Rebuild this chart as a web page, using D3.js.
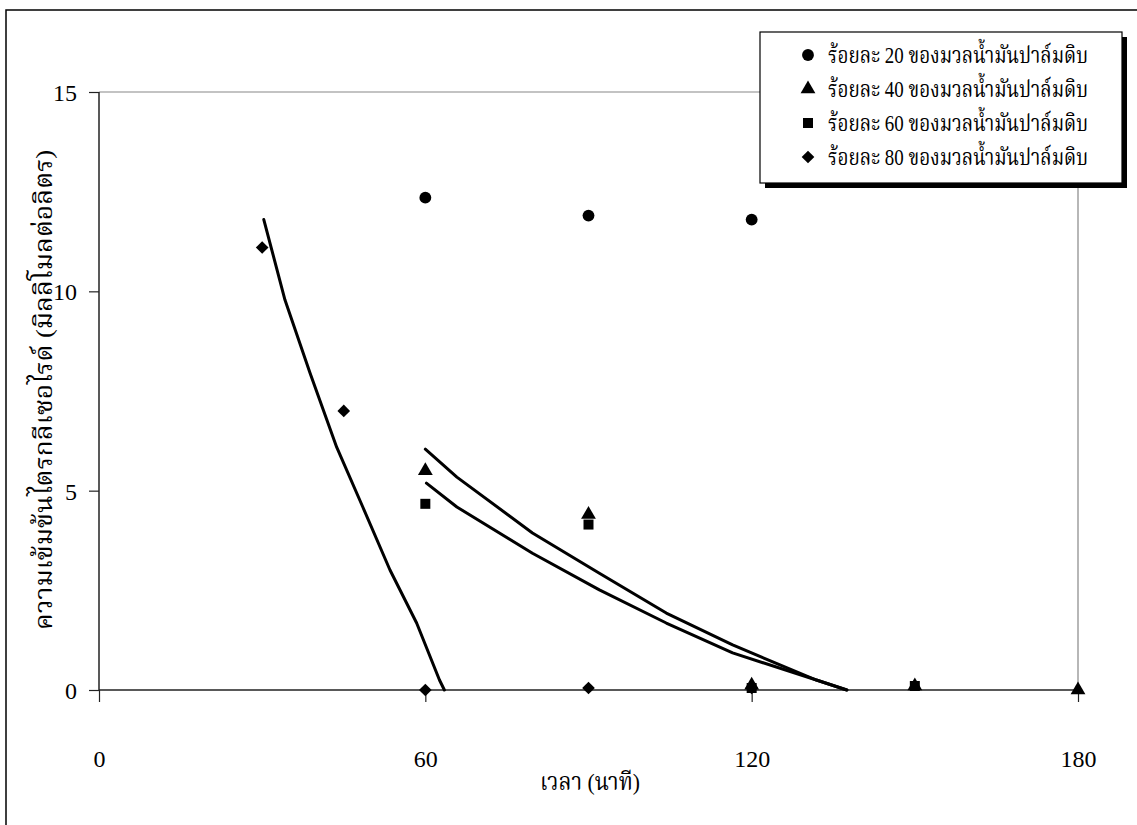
<!DOCTYPE html>
<html>
<head>
<meta charset="utf-8">
<script src="https://cdn.jsdelivr.net/npm/d3@7"></script>
<style>
    body { margin: 0; background: #fff; }
    text { font-family: "Liberation Serif", "Noto Serif Thai", "Noto Sans Thai", serif; fill: #000; }
</style>
</head>
<body>
<script>
// values
var seriesNames = [
    "ร้อยละ 20 ของมวลน้ำมันปาล์มดิบ",
    "ร้อยละ 40 ของมวลน้ำมันปาล์มดิบ",
    "ร้อยละ 60 ของมวลน้ำมันปาล์มดิบ",
    "ร้อยละ 80 ของมวลน้ำมันปาล์มดิบ"
];
var pts20 = [[60, 12.35], [90, 11.9], [120, 11.8]];
var pts40 = [[60, 5.5], [90, 4.4], [120, 0.12], [150, 0.1], [180, 0]];
var pts60 = [[60, 4.67], [90, 4.15], [120, 0.05], [150, 0.1]];
var pts80 = [[30, 11.1], [45, 7.0], [60, 0], [90, 0.05], [120, 0.05]];

// fitted curves
var fit40 = [[60, 6.04], [65.8, 5.34], [79.7, 3.94], [92, 2.93], [104.3, 1.93], [116.5, 1.13], [131.9, 0.25], [137.5, 0]];
var fit60 = [[60.2, 5.19], [65.8, 4.59], [79.7, 3.43], [92, 2.51], [104.3, 1.68], [116.5, 0.93], [131.9, 0.25], [137.5, 0]];
var fit80 = [[30.3, 11.8], [34.2, 9.78], [38.8, 7.95], [43.7, 6.09], [48.5, 4.59], [53.5, 3.01], [58.4, 1.68], [62.6, 0.25], [63.5, 0]];

var xTicks = [0, 60, 120, 180];
var yTicks = [0, 5, 10, 15];

var width = 1137, height = 825;
var plotL = 99, plotR = 1078, plotT = 92, plotB = 690;

var svg = d3.select("body").append("svg")
    .attr("width", width)
    .attr("height", height);

// outer chart frame (cropped at right and bottom)
svg.append("rect")
    .attr("x", 6).attr("y", 10)
    .attr("width", width + 10).attr("height", height + 10)
    .attr("fill", "#fff")
    .attr("stroke", "#000")
    .attr("stroke-width", 1.5);

var x = d3.scaleLinear().domain([0, 180]).range([plotL, plotR]);
var y = d3.scaleLinear().domain([0, 15]).range([plotB, plotT]);

// plot area border (top & right)
svg.append("path")
    .attr("d", "M" + plotL + "," + plotT + "H" + plotR + "V" + plotB)
    .attr("fill", "none")
    .attr("stroke", "#888")
    .attr("stroke-width", 1.2);

var yAxis = svg.append("g")
    .attr("transform", "translate(" + plotL + ",0)")
    .call(d3.axisLeft(y).tickValues(yTicks).tickSize(10).tickPadding(12));

var xAxis = svg.append("g")
    .attr("transform", "translate(0," + plotB + ")")
    .call(d3.axisBottom(x).tickValues(xTicks).tickSize(12).tickPadding(48));

[xAxis, yAxis].forEach(function (g) {
    g.select(".domain").attr("stroke", "#222").attr("stroke-width", 1.5);
    g.selectAll(".tick line").attr("stroke", "#222").attr("stroke-width", 1.2);
    g.selectAll(".tick text")
        .attr("font-size", 24)
        .style("font-family", "'Liberation Serif', serif");
});
yAxis.selectAll(".tick text").attr("dy", "0.35em");
xAxis.select(".domain").attr("d", "M" + plotL + ",0H" + plotR);
yAxis.select(".domain").attr("d", "M0," + plotB + "V" + plotT);

// fitted lines
var line = d3.line()
    .x(function (d) { return x(d[0]); })
    .y(function (d) { return y(d[1]); });

[fit80, fit40, fit60].forEach(function (f) {
    svg.append("path")
        .datum(f)
        .attr("d", line)
        .attr("fill", "none")
        .attr("stroke", "#000")
        .attr("stroke-width", 3)
        .attr("stroke-linejoin", "round")
        .attr("stroke-linecap", "round");
});

// markers (diamond = square turned 45 degrees)
var symbols = [
    d3.symbol().type(d3.symbolCircle).size(110),
    d3.symbol().type(d3.symbolTriangle).size(95),
    d3.symbol().type(d3.symbolSquare).size(100),
    d3.symbol().type(d3.symbolSquare).size(80)
];
var turns = [0, 0, 0, 45];
var allPts = [pts20, pts40, pts60, pts80];

allPts.forEach(function (pts, i) {
    svg.selectAll(null)
        .data(pts)
        .enter()
        .append("path")
        .attr("transform", function (d) {
            return "translate(" + x(d[0]) + "," + y(d[1]) + ") rotate(" + turns[i] + ")";
        })
        .attr("d", symbols[i])
        .attr("fill", "#000");
});

// axis titles
svg.append("text")
    .attr("x", 590)
    .attr("y", 790)
    .attr("text-anchor", "middle")
    .attr("font-size", 24)
    .attr("textLength", 100)
    .attr("lengthAdjust", "spacingAndGlyphs")
    .text("เวลา (นาที)");

svg.append("text")
    .attr("transform", "translate(52,390) rotate(-90)")
    .attr("text-anchor", "middle")
    .attr("font-size", 24)
    .attr("textLength", 480)
    .attr("lengthAdjust", "spacingAndGlyphs")
    .text("ความเข้มข้นไตรกลีเซอไรด์ (มิลลิโมลต่อลิตร)");

// legend
var lg = svg.append("g");
lg.append("rect")
    .attr("x", 765).attr("y", 37)
    .attr("width", 362).attr("height", 151)
    .attr("fill", "#000");
lg.append("rect")
    .attr("x", 760).attr("y", 32)
    .attr("width", 362).attr("height", 151)
    .attr("fill", "#fff")
    .attr("stroke", "#000")
    .attr("stroke-width", 1.2);

var row = lg.selectAll(".row")
    .data(seriesNames)
    .enter()
    .append("g")
    .attr("transform", function (d, i) {
        return "translate(808," + (55 + i * 34) + ")";
    });

row.append("path")
    .attr("transform", function (d, i) { return "rotate(" + turns[i] + ")"; })
    .attr("d", function (d, i) { return symbols[i](); })
    .attr("fill", "#000");

row.append("text")
    .attr("x", 20)
    .attr("dy", "0.35em")
    .attr("font-size", 23)
    .attr("textLength", 260)
    .attr("lengthAdjust", "spacingAndGlyphs")
    .text(function (d) { return d; });
</script>
</body>
</html>
